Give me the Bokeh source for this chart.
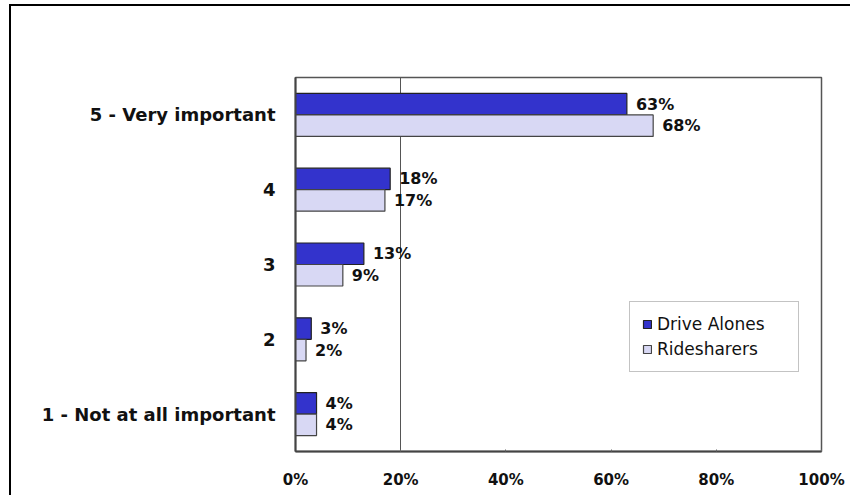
from bokeh.plotting import figure
from bokeh.models import ColumnDataSource, PrintfTickFormatter, FixedTicker
from bokeh.transform import dodge
from bokeh.core.properties import value
from bokeh.embed import file_html
from bokeh.resources import INLINE

categories = ["5 - Very important", "4", "3", "2", "1 - Not at all important"]
drive_alones = [63, 18, 13, 3, 4]
ridesharers = [68, 17, 9, 2, 4]
x_ticks = [0, 20, 40, 60, 80, 100]

src = ColumnDataSource(dict(
    cat=categories,
    da=drive_alones,
    rs=ridesharers,
    da_lbl=[f"{v}%" for v in drive_alones],
    rs_lbl=[f"{v}%" for v in ridesharers],
))

FONT = "DejaVu Sans"

p = figure(y_range=list(reversed(categories)), x_range=(0, 100),
           width=841, height=491, output_backend="svg", toolbar_location=None,
           min_border_left=284, min_border_right=31, min_border_top=71,
           min_border_bottom=46)
p.styles = {"border-top": "2px solid black", "border-left": "2px solid black",
            "margin-left": "9px", "margin-top": "4px"}
p.background_fill_color = "white"
p.border_fill_color = "white"
p.outline_line_color = "#555555"
p.outline_line_width = 1.5

BH = 0.2875
OFF = 0.144

p.hbar(y=dodge("cat", OFF, range=p.y_range), right="da", left=0, height=BH,
       source=src, fill_color="#3333CC", line_color="#222222", line_width=1.2,
       legend_label="Drive Alones")
p.hbar(y=dodge("cat", -OFF, range=p.y_range), right="rs", left=0, height=BH,
       source=src, fill_color="#D8D8F4", line_color="#444444", line_width=1.2,
       legend_label="Ridesharers")

p.text(x="da", y=dodge("cat", OFF, range=p.y_range), text="da_lbl", source=src,
       x_offset=9, text_baseline="middle", text_align="left",
       text_font=value(FONT), text_font_size=value("16px"),
       text_font_style=value("bold"), text_color="#111111")
p.text(x="rs", y=dodge("cat", -OFF, range=p.y_range), text="rs_lbl", source=src,
       x_offset=9, text_baseline="middle", text_align="left",
       text_font=value(FONT), text_font_size=value("16px"),
       text_font_style=value("bold"), text_color="#111111")

# grid
p.ygrid.grid_line_color = None
p.xgrid.ticker = FixedTicker(ticks=[20])
p.xgrid.grid_line_color = "#555555"
p.xgrid.grid_line_width = 1

# x axis
p.xaxis.ticker = FixedTicker(ticks=x_ticks)
p.xaxis.formatter = PrintfTickFormatter(format="%d%%")
p.xaxis.major_tick_in = 2
p.xaxis.major_tick_out = 0
p.xaxis.minor_tick_line_color = None
p.xaxis.axis_line_color = "#444444"
p.xaxis.axis_line_width = 2
p.xaxis.major_tick_line_color = "#666666"
p.xaxis.major_label_standoff = 19
p.xaxis.major_label_text_font = FONT
p.xaxis.major_label_text_font_size = "15px"
p.xaxis.major_label_text_font_style = "bold"
p.xaxis.major_label_text_color = "#111111"

# y axis
p.yaxis.major_tick_in = 0
p.yaxis.major_tick_out = 0
p.yaxis.minor_tick_line_color = None
p.yaxis.axis_line_color = "#444444"
p.yaxis.axis_line_width = 2
p.yaxis.major_label_standoff = 20
p.yaxis.major_label_text_font = FONT
p.yaxis.major_label_text_font_size = "18px"
p.yaxis.major_label_text_font_style = "bold"
p.yaxis.major_label_text_color = "#111111"

# legend
lg = p.legend[0]
lg.location = (334, 79)
lg.glyph_width = 10
lg.glyph_height = 10
lg.label_height = 16
lg.label_width = 129
lg.label_standoff = 5
lg.spacing = 5
lg.padding = 12
lg.margin = 0
lg.label_text_font = FONT
lg.label_text_font_size = "17px"
lg.label_text_color = "#111111"
lg.border_line_color = "#888888"
lg.border_line_width = 1
lg.background_fill_color = "white"
lg.background_fill_alpha = 1

open("out.html", "w").write(file_html(p, INLINE))
